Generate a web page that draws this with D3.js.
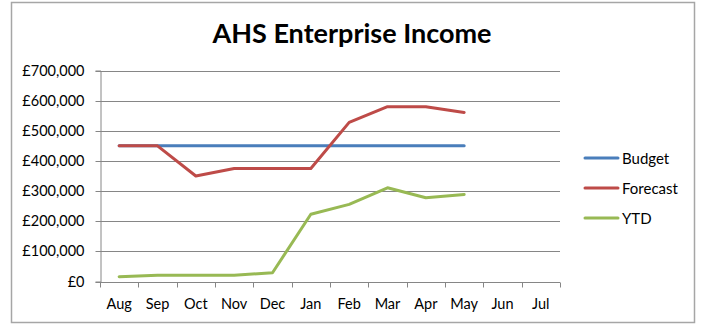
<!DOCTYPE html>
<html>
<head>
<meta charset="utf-8">
<script src="https://cdn.jsdelivr.net/npm/d3@7"></script>
<style>
  html, body { margin: 0; padding: 0; background: #fff; }
  svg { display: block; }
  text { font-family: Lato, "Open Sans", sans-serif; fill: #000; }
</style>
</head>
<body>
<svg id="chart" width="702" height="327"></svg>
<script>
// Monthly income figures, Aug to Jul
const months = ["Aug", "Sep", "Oct", "Nov", "Dec", "Jan", "Feb", "Mar", "Apr", "May", "Jun", "Jul"];
const budget   = [450000, 450000, 450000, 450000, 450000, 450000, 450000, 450000, 450000, 450000, null, null];
const forecast = [450000, 450000, 350000, 375000, 375000, 375000, 528000, 580000, 580000, 561000, null, null];
const ytd      = [16000, 21000, 21000, 21000, 29000, 223000, 256000, 311000, 278000, 289000, null, null];
const yTicks   = [0, 100000, 200000, 300000, 400000, 500000, 600000, 700000];

const series = [
  { name: "Budget",   values: budget,   color: "#4a7ebb" },
  { name: "Forecast", values: forecast, color: "#be4b48" },
  { name: "YTD",      values: ytd,      color: "#98b954" }
];

const svg = d3.select("#chart");

// outer chart frame
svg.append("rect")
  .attr("x", 11.5).attr("y", 2.5)
  .attr("width", 683).attr("height", 320)
  .attr("fill", "#fff")
  .attr("stroke", "#a6a6a6")
  .attr("stroke-width", 1.5);

const plot = { left: 100, right: 560, top: 70.5, bottom: 281.5 };

const x = d3.scaleBand().domain(months).range([plot.left, plot.right]).padding(0);
const y = d3.scaleLinear().domain([0, 700000]).range([plot.bottom, plot.top]);

const fmt = v => "£" + d3.format(",")(v);
const labelSize = "14.5px";

// horizontal gridlines
svg.append("g")
  .selectAll("line")
  .data(yTicks.filter(d => d > 0))
  .join("line")
  .attr("x1", plot.left).attr("x2", plot.right)
  .attr("y1", d => Math.round(y(d)) + 0.5).attr("y2", d => Math.round(y(d)) + 0.5)
  .attr("stroke", "#868686").attr("stroke-width", 1);

// y axis
const yAxis = svg.append("g")
  .attr("transform", `translate(${plot.left + 0.5},0)`)
  .call(d3.axisLeft(y).tickValues(yTicks).tickFormat(fmt).tickSize(5).tickPadding(11));
yAxis.select(".domain").attr("stroke", "#868686");
yAxis.selectAll(".tick line").attr("stroke", "#868686");
yAxis.selectAll(".tick").attr("transform", d => `translate(0,${Math.round(y(d)) + 0.5})`);
yAxis.selectAll("text").style("font-family", "Lato, sans-serif").style("font-size", labelSize).attr("fill", "#000");

// x axis: ticks at category boundaries, labels centred in each category
const xg = svg.append("g").attr("transform", `translate(0,${Math.round(plot.bottom) + 0.5})`);
xg.append("line")
  .attr("x1", plot.left).attr("x2", plot.right)
  .attr("stroke", "#868686");
const bounds = months.map(m => x(m)).concat([x(months[months.length - 1]) + x.bandwidth()]);
xg.selectAll("line.tk")
  .data(bounds)
  .join("line")
  .attr("class", "tk")
  .attr("x1", d => Math.round(d) + 0.5).attr("x2", d => Math.round(d) + 0.5)
  .attr("y1", 0).attr("y2", 5)
  .attr("stroke", "#868686");
xg.selectAll("text")
  .data(months)
  .join("text")
  .attr("x", d => x(d) + x.bandwidth() / 2)
  .attr("y", 26.5)
  .attr("text-anchor", "middle")
  .style("font-size", labelSize)
  .text(d => d);

// series lines
const line = d3.line()
  .defined(d => d != null)
  .x((d, i) => x(months[i]) + x.bandwidth() / 2)
  .y(d => y(d));

svg.append("g")
  .selectAll("path")
  .data(series)
  .join("path")
  .attr("fill", "none")
  .attr("stroke", d => d.color)
  .attr("stroke-width", 3)
  .attr("stroke-linejoin", "round")
  .attr("stroke-linecap", "round")
  .attr("d", d => line(d.values));

// legend
const legend = svg.append("g")
  .selectAll("g")
  .data(series)
  .join("g")
  .attr("transform", (d, i) => `translate(585,${158 + i * 30})`);
legend.append("line")
  .attr("x1", 0).attr("x2", 33)
  .attr("stroke", d => d.color)
  .attr("stroke-width", 3)
  .attr("stroke-linecap", "round");
legend.append("text")
  .attr("x", 37).attr("y", 5.5)
  .style("font-size", "15px")
  .text(d => d.name);

// title
svg.append("text")
  .attr("x", 352).attr("y", 42.5)
  .attr("text-anchor", "middle")
  .style("font-size", "27px")
  .style("font-weight", "bold")
  .text("AHS Enterprise Income");
</script>
</body>
</html>
